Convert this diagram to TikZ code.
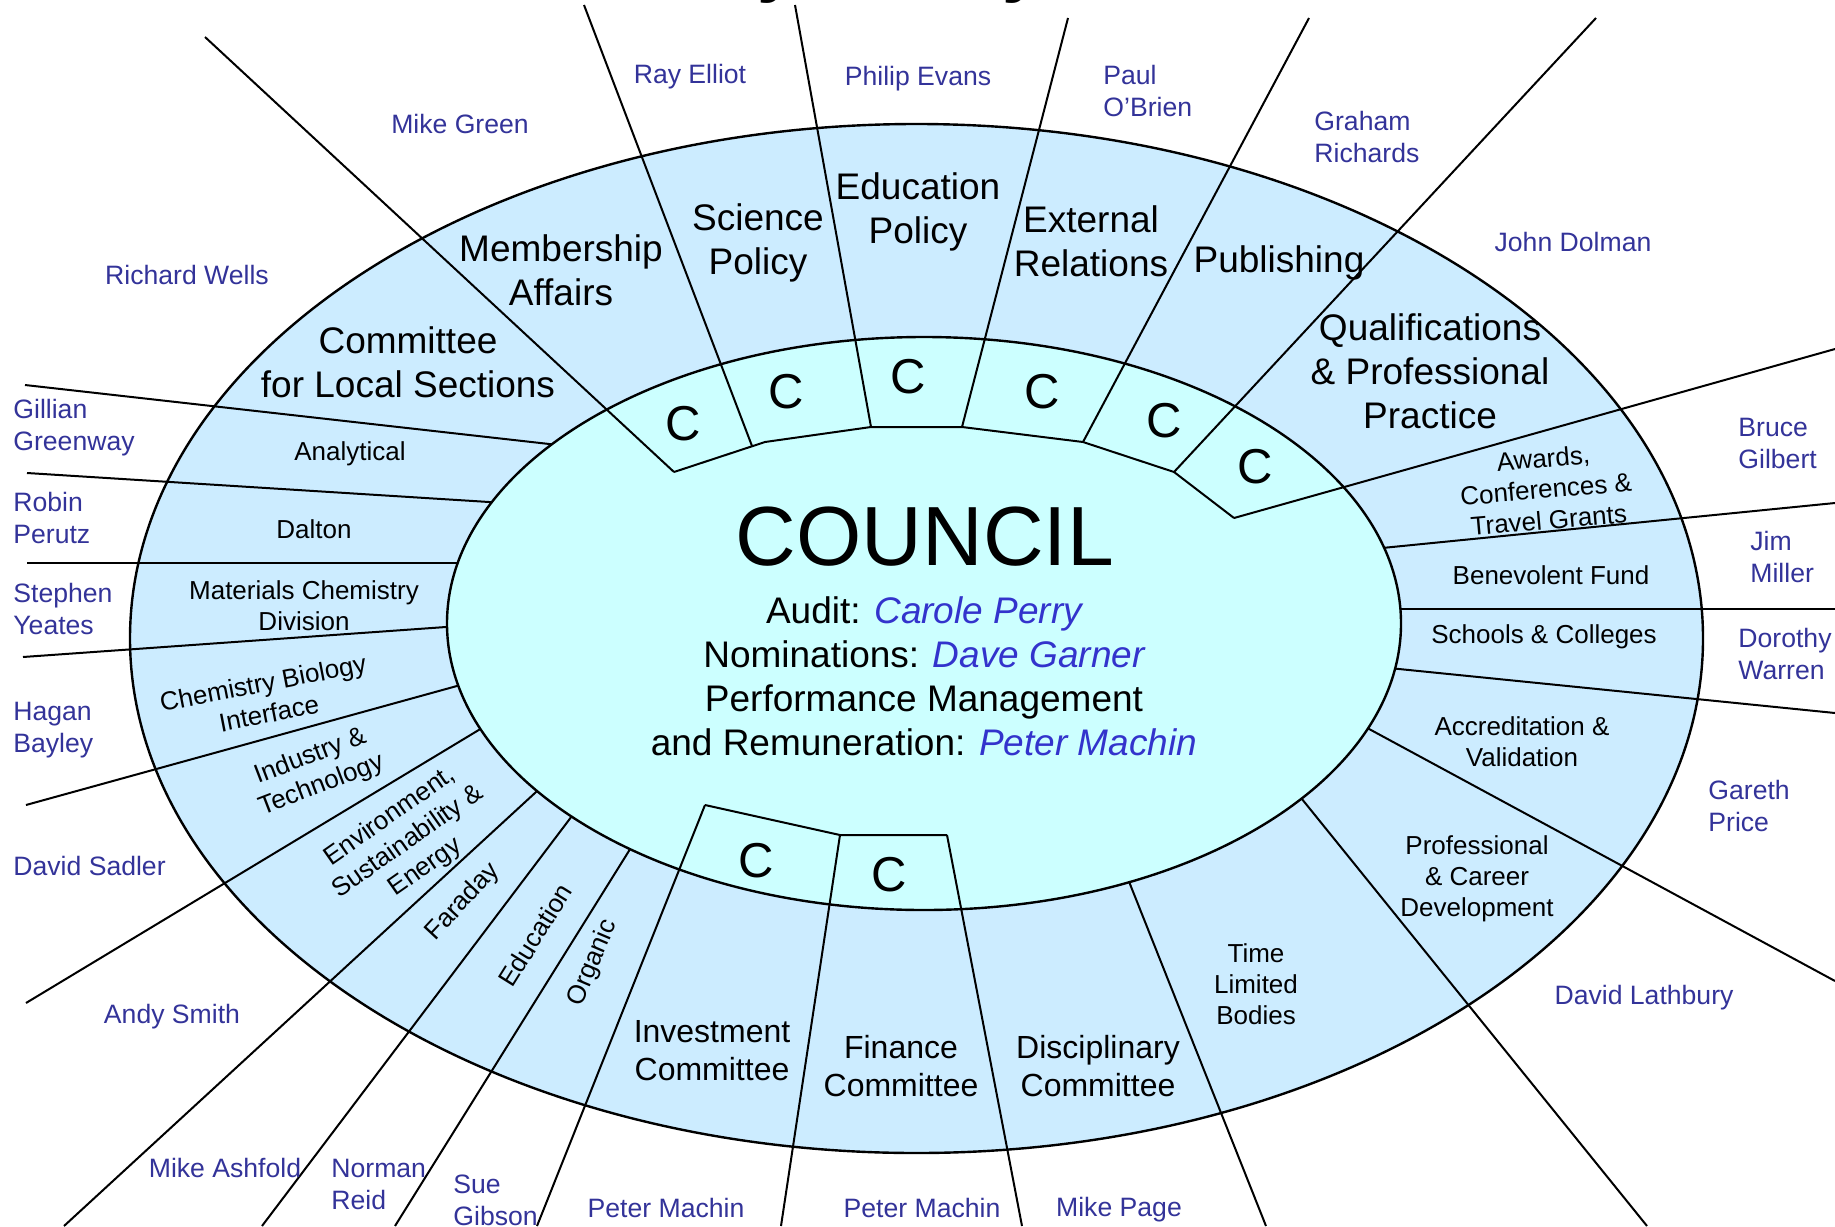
\documentclass[tikz,border=0pt]{standalone}
\usepackage{fontspec}
\setmainfont{Liberation Sans}
\usepackage{tikz}

\definecolor{ringblue}{HTML}{CCECFF}
\definecolor{corecyan}{HTML}{CCFFFF}
\definecolor{namecol}{HTML}{333399}
\definecolor{chaircol}{HTML}{3333CC}

\begin{document}
\begin{tikzpicture}[x=0.5pt, y=-0.5pt,
    divline/.style={line width=1pt},
    rimline/.style={line width=1.2pt},
    bigtxt/.style={font=\fontsize{18.5}{22}\selectfont, align=center, inner sep=0pt},
    cmtxt/.style={font=\fontsize{16}{19}\selectfont, align=center, inner sep=0pt},
    smalltxt/.style={font=\fontsize{13}{15.5}\selectfont, align=center, inner sep=0pt},
    nametxt/.style={text=namecol, font=\fontsize{13.3}{16}\selectfont, inner sep=0pt},
    ctxt/.style={font=\fontsize{24.5}{24.5}\selectfont, inner sep=0pt}]
  \useasboundingbox (0, 0) rectangle (1835, 1226);

  \filldraw[fill=ringblue, rimline] (916.5, 638.5) ellipse [x radius=786.5, y radius=514.5];

  % lines that stop at the council ellipse
  \draw[divline] (25, 385) -- (567, 446);
  \draw[divline] (27, 473) -- (505, 503);
  \draw[divline] (27, 563) -- (475, 563);
  \draw[divline] (23, 657) -- (460, 626);
  \draw[divline] (26, 805) -- (475, 681);
  \draw[divline] (26, 1003) -- (492, 722);
  \draw[divline] (64, 1226) -- (548, 781);
  \draw[divline] (262, 1226) -- (581, 804);
  \draw[divline] (395, 1226) -- (637, 838);
  \draw[divline] (1266, 1226) -- (1124, 869);
  \draw[divline] (1647, 1226) -- (1289, 783);
  \draw[divline] (1835, 981) -- (1358, 723);
  \draw[divline] (1835, 713) -- (1389, 668);
  \draw[divline] (1835, 609) -- (1389, 609);
  \draw[divline] (1835, 503) -- (1372, 549);

  \filldraw[fill=corecyan, rimline] (924, 623.5) ellipse [x radius=477, y radius=286.5];

  \coordinate (k0) at (674, 472);
  \coordinate (k1) at (765, 442);
  \coordinate (k2) at (871, 427);
  \coordinate (k3) at (962, 427);
  \coordinate (k4) at (1083, 442);
  \coordinate (k5) at (1174, 472);
  \coordinate (k6) at (1234, 518);
  \coordinate (k7) at (705, 805);
  \coordinate (k8) at (840, 835);
  \coordinate (k9) at (947, 835);

  \draw[divline] (k0) -- (k1) -- (k2) -- (k3) -- (k4) -- (k5) -- (k6);
  \draw[divline] (k7) -- (k8) -- (k9);
  \draw[divline] (205, 37) -- (k0);
  \draw[divline] (584, 5) -- (752, 446);
  \draw[divline] (795, 5) -- (k2);
  \draw[divline] (1068, 18) -- (k3);
  \draw[divline] (1309, 18) -- (k4);
  \draw[divline] (1596, 18) -- (k5);
  \draw[divline] (1835, 349) -- (k6);
  \draw[divline] (537, 1226) -- (k7);
  \draw[divline] (781, 1226) -- (k8);
  \draw[divline] (1022, 1226) -- (k9);

  \node[font=\bfseries\fontsize{36}{36}\selectfont, anchor=base, inner sep=0pt] (tl1) at (778, -11) {y};
  \node[font=\bfseries\fontsize{36}{36}\selectfont, anchor=base, inner sep=0pt] (tl2) at (1023, -11) {y};

  \node[bigtxt] (cls) at (408, 362) {Committee\\for Local Sections};
  \node[bigtxt] (mem) at (561, 270) {Membership\\Affairs};
  \node[bigtxt] (sci) at (758, 243) {Science\\Policy};
  \node[bigtxt] (edu) at (918, 212) {Education\\Policy};
  \node[bigtxt] (ext) at (1091, 241) {External\\Relations};
  \node[bigtxt] (pub) at (1279, 263) {Publishing};
  \node[bigtxt] (qpp) at (1430, 371) {Qualifications\\\& Professional\\Practice};
  \node[cmtxt] (inv) at (712, 1051) {Investment\\Committee};
  \node[cmtxt] (fin) at (901, 1066) {Finance\\Committee};
  \node[cmtxt] (dis) at (1098, 1066) {Disciplinary\\Committee};

  \node[smalltxt] (ana) at (350, 454) {Analytical};
  \node[smalltxt] (dal) at (314, 529) {Dalton};
  \node[smalltxt] (mat) at (304, 606) {Materials Chemistry\\Division};
  \node[smalltxt, rotate=11] (cbi) at (266, 698) {Chemistry Biology\\Interface};
  \node[smalltxt, rotate=21] (int) at (316, 771) {Industry \&\\Technology};
  \node[smalltxt, rotate=35] (ese) at (408, 842) {Environment,\\Sustainability \&\\Energy};
  \node[smalltxt, rotate=47] (far) at (463, 902) {Faraday};
  \node[smalltxt, rotate=58] (edn) at (535, 935) {Education};
  \node[smalltxt, rotate=67] (org) at (593, 963) {Organic};
  \node[smalltxt, rotate=5] (act) at (1546, 489) {Awards,\\Conferences \&\\Travel Grants};
  \node[smalltxt] (ben) at (1551, 575) {Benevolent Fund};
  \node[smalltxt] (sch) at (1544, 637) {Schools \& Colleges};
  \node[smalltxt] (acc) at (1522, 742) {Accreditation \&\\Validation};
  \node[smalltxt] (pcd) at (1477, 879) {Professional\\\& Career\\Development};
  \node[smalltxt] (tlb) at (1256, 984) {Time\\Limited\\Bodies};

  \node[ctxt] (c1) at (683, 424) {C};
  \node[ctxt] (c2) at (786, 392) {C};
  \node[ctxt] (c3) at (908, 377) {C};
  \node[ctxt] (c4) at (1042, 392) {C};
  \node[ctxt] (c5) at (1164, 421) {C};
  \node[ctxt] (c6) at (1255, 467) {C};
  \node[ctxt] (c7) at (756, 861) {C};
  \node[ctxt] (c8) at (889, 875) {C};

  \node[font=\fontsize{42}{42}\selectfont, inner sep=0pt] (cou) at (925, 537) {COUNCIL};
  \node[bigtxt] (off) at (924, 676) {Audit: \textcolor{chaircol}{\itshape Carole Perry}\\Nominations: \textcolor{chaircol}{\itshape Dave Garner}\\Performance Management\\and Remuneration: \textcolor{chaircol}{\itshape Peter Machin}};

  \node[nametxt] (rel) at (690, 77) {Ray Elliot};
  \node[nametxt] (pev) at (918, 79) {Philip Evans};
  \node[nametxt, align=left, anchor=west] (pob) at (1103, 91) {Paul\\O'Brien};
  \node[nametxt, align=left, anchor=west] (gri) at (1314, 137) {Graham\\Richards};
  \node[nametxt] (jdo) at (1573, 242) {John Dolman};
  \node[nametxt] (mgr) at (460, 124) {Mike Green};
  \node[nametxt] (rwe) at (187, 275) {Richard Wells};
  \node[nametxt, align=left, anchor=west] (ggr) at (13, 428) {Gillian\\Greenway};
  \node[nametxt, align=left, anchor=west] (rpe) at (13, 518) {Robin\\Perutz};
  \node[nametxt, align=left, anchor=west] (sye) at (13, 609) {Stephen\\Yeates};
  \node[nametxt, align=left, anchor=west] (hba) at (13, 730) {Hagan\\Bayley};
  \node[nametxt, anchor=west] (dsa) at (13, 866) {David Sadler};
  \node[nametxt] (asm) at (172, 1017) {Andy Smith};
  \node[nametxt] (mas) at (225, 1168) {Mike Ashfold};
  \node[nametxt, align=left, anchor=west] (nre) at (331, 1184) {Norman\\Reid};
  \node[nametxt, align=left, anchor=west] (sgi) at (453, 1200) {Sue\\Gibson};
  \node[nametxt] (pm1) at (666, 1208) {Peter Machin};
  \node[nametxt] (pm2) at (922, 1208) {Peter Machin};
  \node[nametxt] (mpa) at (1119, 1210) {Mike Page};
  \node[nametxt, align=left, anchor=west] (bgi) at (1738, 443) {Bruce\\Gilbert};
  \node[nametxt, align=left, anchor=west] (jmi) at (1750, 557) {Jim\\Miller};
  \node[nametxt, align=left, anchor=west] (dwa) at (1738, 654) {Dorothy\\Warren};
  \node[nametxt, align=left, anchor=west] (gpr) at (1708, 806) {Gareth\\Price};
  \node[nametxt] (dla) at (1644, 998) {David Lathbury};
\end{tikzpicture}
\end{document}
